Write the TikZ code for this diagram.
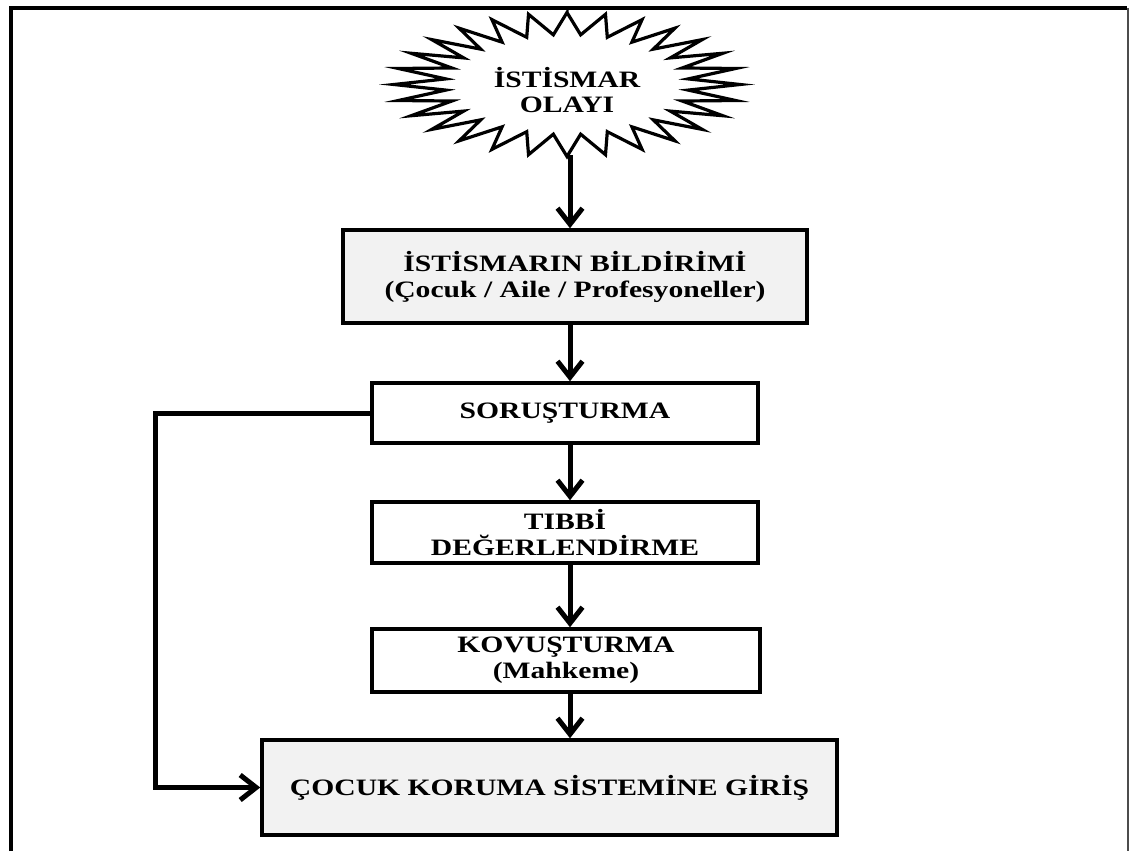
\documentclass[tikz,border=0pt]{standalone}
\usepackage{fontspec}
\setmainfont{Liberation Serif}[FakeStretch=1.26]
\usetikzlibrary{arrows.meta,calc}
\definecolor{boxgray}{HTML}{F2F2F2}
\begin{document}
\begin{tikzpicture}[x=1pt,y=-1pt,
  boxstyle/.style={draw=black,line width=3.5pt,minimum width=#1,inner sep=0pt,align=center,
     font=\fontsize{23.5}{26}\selectfont\bfseries},
  greybox/.style={boxstyle=#1,fill=boxgray},
  whitebox/.style={boxstyle=#1,fill=white},
  conn/.style={line width=5pt,-{Straight Barb[length=16pt,width=25pt]}},
  starline/.style={line width=3.2pt,line join=miter}]
\useasboundingbox (0,0) rectangle (1129,851);
% frame
\draw[line width=4pt] (10.5,851) -- (10.5,8.5) -- (1127,8.5);
\draw[line width=2pt,draw=black!70] (1128,8) -- (1128,851);
% starburst
\draw[starline,fill=white] (567,12.5)
  \foreach \i in {1,...,28} {
    -- ({567+122*cos(90+(2*\i-1)*6.42857)},{84.5-50*sin(90+(2*\i-1)*6.42857)})
    -- ({567+173*cos(90+(2*\i)*6.42857)},{84.5-72*sin(90+(2*\i)*6.42857)})
  } -- cycle;
\node[font=\fontsize{23.5}{25}\selectfont\bfseries,align=center] (star) at (567,90) {İSTİSMAR\\OLAYI};
\coordinate (starbot) at (570,155);
\coordinate (ax) at (570,0);
\coordinate (lx) at (155,0);
% boxes
\node[greybox=464pt,minimum height=93pt] (b1) at (575,276.5) {İSTİSMARIN BİLDİRİMİ\\(Çocuk / Aile / Profesyoneller)};
\node[whitebox=386pt,minimum height=60pt] (b2) at (565,413) {SORUŞTURMA};
\node[whitebox=386pt,minimum height=61pt] (b3) at (565,532.5) {TIBBİ\\DEĞERLENDİRME};
\node[whitebox=388pt,minimum height=63pt] (b4) at (566,660.5) {KOVUŞTURMA\\(Mahkeme)};
\node[greybox=575pt,minimum height=95pt] (b5) at (549.5,787.5) {ÇOCUK KORUMA SİSTEMİNE GİRİŞ};
% connectors
\draw[conn] (starbot) -- (b1.north -| ax);
\draw[conn] (b1.south -| ax) -- (b2.north -| ax);
\draw[conn] (b2.south -| ax) -- (b3.north -| ax);
\draw[conn] (b3.south -| ax) -- (b4.north -| ax);
\draw[conn] (b4.south -| ax) -- (b5.north -| ax);
\draw[conn] (b2.west) -- (b2.west -| lx) |- (b5.west);
\end{tikzpicture}
\end{document}
